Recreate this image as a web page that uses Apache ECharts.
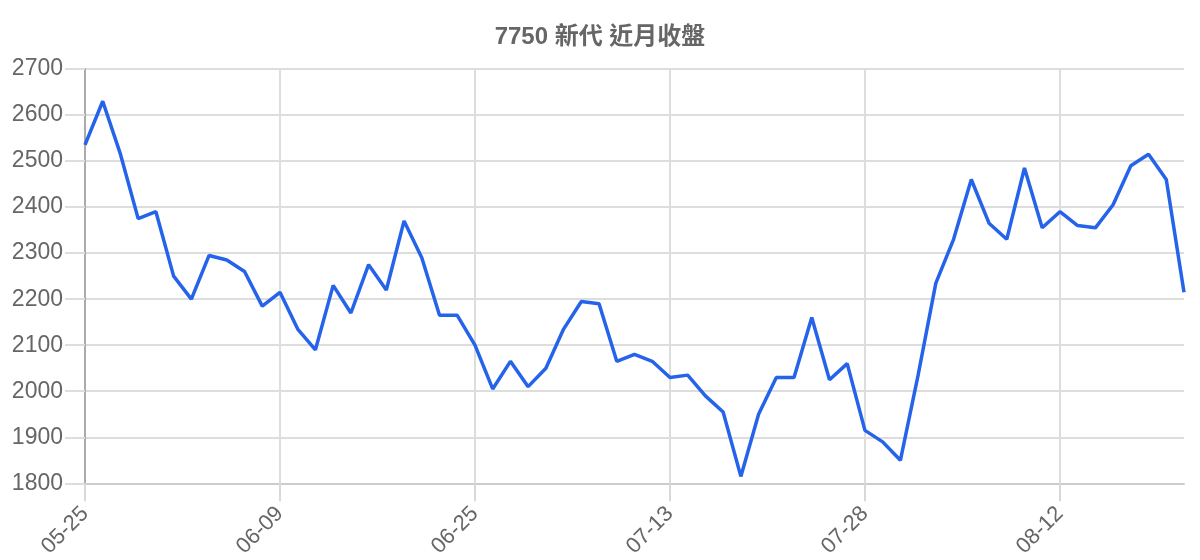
<!DOCTYPE html>
<html>
<head>
<meta charset="utf-8">
<script src="https://cdn.jsdelivr.net/npm/echarts@6/dist/echarts.min.js"></script>
<style>
  html, body { margin: 0; padding: 0; background: #fff; }
  #chart { width: 1200px; height: 560px; }
</style>
</head>
<body>
<div id="chart"></div>
<script>
const chartTitle = '7750 新代 近月收盤'

const dates = [
    '05-25', '05-26', '05-27', '05-28', '05-31', '06-01', '06-02', '06-03', '06-04', '06-07', '06-08',
    '06-09', '06-10', '06-11', '06-15', '06-16', '06-17', '06-18', '06-21', '06-22', '06-23', '06-24',
    '06-25', '06-28', '06-29', '06-30', '07-02', '07-05', '07-06', '07-07', '07-08', '07-09', '07-12',
    '07-13', '07-14', '07-15', '07-16', '07-19', '07-20', '07-21', '07-22', '07-23', '07-26', '07-27',
    '07-28', '07-29', '07-30', '08-02', '08-03', '08-04', '08-05', '08-06', '08-09', '08-10', '08-11',
    '08-12', '08-13', '08-16', '08-17', '08-18', '08-19', '08-20', '08-23'
]

const closes = [
    2535, 2630, 2515, 2375, 2390, 2250, 2200, 2295, 2285, 2260, 2185,
    2215, 2135, 2090, 2230, 2170, 2275, 2220, 2370, 2290, 2165, 2165,
    2100, 2005, 2065, 2010, 2050, 2135, 2195, 2190, 2065, 2080, 2065,
    2030, 2035, 1990, 1955, 1815, 1950, 2030, 2030, 2160, 2025, 2060,
    1915, 1890, 1850, 2035, 2235, 2330, 2460, 2365, 2330, 2485, 2355,
    2390, 2360, 2355, 2405, 2490, 2515, 2460, 2215
]

const yMin = 1800
const yMax = 2700
const yStep = 100

function drawChart() {
    var dom = document.getElementById('chart')
    var myChart = echarts.init(dom, null, { renderer: 'canvas' })

    var option = {
        animation: false,
        backgroundColor: '#fff',
        title: {
            text: chartTitle,
            left: 'center',
            top: 20,
            textStyle: {
                fontFamily: '"Liberation Sans", "Noto Sans CJK TC", sans-serif',
                fontSize: 24,
                fontWeight: 'bold',
                color: '#666'
            }
        },
        grid: {
            left: 85,
            right: 16,
            top: 69,
            bottom: 76
        },
        xAxis: {
            type: 'category',
            boundaryGap: false,
            data: dates,
            axisLine: { lineStyle: { color: '#ccc', width: 2 } },
            axisTick: {
                show: true,
                interval: 10,
                length: 18,
                lineStyle: { color: '#d8d8d8', width: 2 }
            },
            splitLine: {
                show: true,
                interval: 10,
                lineStyle: { color: '#ddd', width: 2 }
            },
            axisLabel: {
                interval: 10,
                rotate: 45,
                margin: 27,
                fontFamily: '"Liberation Sans", sans-serif',
                fontSize: 22,
                color: '#666'
            }
        },
        yAxis: {
            type: 'value',
            min: yMin,
            max: yMax,
            interval: yStep,
            axisLine: { show: true, lineStyle: { color: '#aaa', width: 2 } },
            axisTick: {
                show: true,
                length: 20,
                lineStyle: { color: '#ddd', width: 2 }
            },
            splitLine: { lineStyle: { color: '#ddd', width: 2 } },
            axisLabel: {
                margin: 22,
                formatter: function (v) { return String(v) },
                fontFamily: '"Liberation Sans", sans-serif',
                fontSize: 23,
                color: '#666'
            }
        },
        series: [
            {
                name: '收盤',
                type: 'line',
                data: closes,
                symbol: 'none',
                lineStyle: { color: '#2563eb', width: 3.5 }
            }
        ]
    }

    myChart.setOption(option)
}

drawChart()
</script>
</body>
</html>
